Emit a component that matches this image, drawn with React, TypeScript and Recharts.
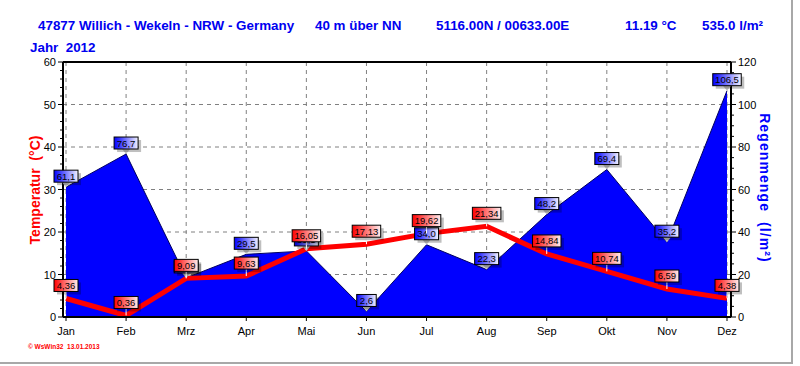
import React from 'react';
import {
  ComposedChart,
  Area,
  Line,
  XAxis,
  YAxis,
  CartesianGrid,
  ReferenceLine,
  LabelList,
} from 'recharts';

const months = ['Jan', 'Feb', 'Mrz', 'Apr', 'Mai', 'Jun', 'Jul', 'Aug', 'Sep', 'Okt', 'Nov', 'Dez'];
const temperature = [4.36, 0.36, 9.09, 9.63, 16.05, 17.13, 19.62, 21.34, 14.84, 10.74, 6.59, 4.38];
const rainfall = [61.1, 76.7, 18.4, 29.5, 31.1, 2.6, 34.0, 22.3, 48.2, 69.4, 35.2, 106.5];

const tempTicks = [0, 10, 20, 30, 40, 50, 60];
const rainTicks = [0, 20, 40, 60, 80, 100, 120];
const TEMP_MAX = 60;
const RAIN_MAX = 120;
const TEMP_MINOR_STEP = 2;
const RAIN_MINOR_STEP = 5;
const monthMinorTicks = Array.from({ length: 45 }, (_, i) => i * 0.25);

const data = months.map((m, i) => ({ month: m, temp: temperature[i], rain: rainfall[i] }));

const FONT = '"Liberation Sans", Arial, Helvetica, sans-serif';

function fmt(v: number, d: number) {
  return v.toFixed(d).replace('.', ',');
}

function ValueBox({ x, y, text, gap, kind }: { x: number; y: number; text: string; gap: number; kind: string }) {
  const w = text.length * 4.5 + 6;
  const h = 12;
  const bottom = y - gap;
  const top = bottom - h;
  const left = x - w / 2;
  return (
    <g>
      {kind === 'rain' ? (
        <polygon points={`${x - 4},${bottom} ${x + 4},${bottom} ${x},${y}`} fill="#c8c8c8" />
      ) : (
        <line x1={x} x2={x} y1={bottom} y2={y} stroke="#ffffff" strokeWidth={1} />
      )}
      <rect x={left + 3} y={top + 3} width={w} height={h} fill="#000" opacity={0.25} />
      <rect x={left} y={top} width={w} height={h} fill={`url(#${kind}Grad)`} stroke="#000" strokeWidth={1} />
      <text x={x} y={top + 9.5} textAnchor="middle" fontSize={9.5} fontFamily={FONT} fill="#000">
        {text}
      </text>
    </g>
  );
}

const TempLabel = (props: any) => {
  const { x, y, value } = props;
  if (x == null || y == null) return null;
  return <ValueBox x={x} y={y} text={fmt(Number(value), 2)} gap={7} kind="temp" />;
};

const RainLabel = (props: any) => {
  const { x, y, value } = props;
  if (x == null || y == null) return null;
  return <ValueBox x={x} y={y} text={fmt(Number(value), 1)} gap={5} kind="rain" />;
};

function minorOffsets(height: any, max: number, step: number, majorStep: number) {
  if (typeof height !== 'number' || !(height > 0)) return [];
  const pxPerUnit = height / max;
  const out: number[] = [];
  for (let v = step; v < majorStep; v += step) out.push(v * pxPerUnit);
  return out;
}

const LeftTick = (props: any) => {
  const { x, y, payload, height } = props;
  const v = payload.value;
  const minors = v > 0 ? minorOffsets(height, TEMP_MAX, TEMP_MINOR_STEP, 10) : [];
  return (
    <g>
      <line x1={x - 5} x2={x} y1={y} y2={y} stroke="#000" />
      {minors.map((d, i) => (
        <line key={i} x1={x - 3} x2={x} y1={y + d} y2={y + d} stroke="#000" />
      ))}
      <text x={x - 7} y={y + 4} textAnchor="end" fontSize={11} fontFamily={FONT} fill="#000">
        {v}
      </text>
    </g>
  );
};

const RightTick = (props: any) => {
  const { x, y, payload, height } = props;
  const v = payload.value;
  const minors = v > 0 ? minorOffsets(height, RAIN_MAX, RAIN_MINOR_STEP, 20) : [];
  return (
    <g>
      <line x1={x} x2={x + 5} y1={y} y2={y} stroke="#000" />
      {minors.map((d, i) => (
        <line key={i} x1={x} x2={x + 3} y1={y + d} y2={y + d} stroke="#000" />
      ))}
      <text x={x + 7} y={y + 4} textAnchor="start" fontSize={11} fontFamily={FONT} fill="#000">
        {v}
      </text>
    </g>
  );
};

const MonthTick = (props: any) => {
  const { x, y, payload } = props;
  return (
    <g>
      <line x1={x} x2={x} y1={y} y2={y + 4} stroke="#000" />
      <text x={x} y={y + 18} textAnchor="middle" fontSize={11} fontFamily={FONT} fill="#000">
        {payload.value}
      </text>
    </g>
  );
};

const MinorTick = (props: any) => {
  const { x, y } = props;
  return <line x1={x} x2={x} y1={y} y2={y + 3} stroke="#000" />;
};

export default function App() {
  return (
    <div style={{ position: 'absolute', left: 0, top: 0, width: 800, height: 366, background: '#fff', overflow: 'hidden' }}>
      <ComposedChart
        width={800}
        height={366}
        data={data}
        margin={{ top: 62, right: 29, bottom: 19, left: 23 }}
      >
        <defs>
          <linearGradient id="tempGrad" x1="0" y1="0" x2="1" y2="0">
            <stop offset="0%" stopColor="#ff0000" />
            <stop offset="100%" stopColor="#ffeeee" />
          </linearGradient>
          <linearGradient id="rainGrad" x1="0" y1="0" x2="1" y2="0">
            <stop offset="0%" stopColor="#0000ff" />
            <stop offset="100%" stopColor="#f2f2ff" />
          </linearGradient>
        </defs>
        <CartesianGrid
          yAxisId="left"
          horizontal={true}
          vertical={true}
          stroke="#808080"
          strokeDasharray="4 4"
        />
        <XAxis
          xAxisId="m"
          type="number"
          dataKey="idx"
          domain={[0, 11]}
          ticks={monthMinorTicks}
          interval={0}
          allowDataOverflow
          height={0}
          axisLine={false}
          tickLine={false}
          tickSize={0}
          tickMargin={0}
          tick={<MinorTick />}
          padding={{ left: 3, right: 4 }}
        />
        <XAxis
          dataKey="month"
          height={30}
          interval={0}
          padding={{ left: 3, right: 4 }}
          axisLine={{ stroke: '#000', strokeWidth: 2 }}
          tickLine={false}
          tickSize={0}
          tickMargin={0}
          tick={<MonthTick />}
        />
        <YAxis
          yAxisId="left"
          orientation="left"
          width={40}
          domain={[0, TEMP_MAX]}
          ticks={tempTicks}
          interval={0}
          axisLine={{ stroke: '#000', strokeWidth: 2 }}
          tickLine={false}
          tickSize={0}
          tickMargin={0}
          tick={<LeftTick />}
        />
        <YAxis
          yAxisId="right"
          orientation="right"
          width={40}
          domain={[0, RAIN_MAX]}
          ticks={rainTicks}
          interval={0}
          axisLine={{ stroke: '#000', strokeWidth: 2 }}
          tickLine={false}
          tickSize={0}
          tickMargin={0}
          tick={<RightTick />}
        />
        <Area
          yAxisId="right"
          dataKey="rain"
          type="linear"
          fill="#0000ff"
          fillOpacity={1}
          stroke="#000060"
          strokeWidth={1}
          isAnimationActive={false}
          dot={false}
          activeDot={false}
        >
          <LabelList dataKey="rain" content={<RainLabel />} />
        </Area>
        <ReferenceLine yAxisId="left" y={60} stroke="#000" strokeWidth={2} />
        <Line
          yAxisId="left"
          dataKey="temp"
          type="linear"
          stroke="#ff0000"
          strokeWidth={5}
          dot={false}
          activeDot={false}
          isAnimationActive={false}
        >
          <LabelList dataKey="temp" content={<TempLabel />} />
        </Line>
      </ComposedChart>
      <svg
        width={800}
        height={366}
        style={{ position: 'absolute', left: 0, top: 0, pointerEvents: 'none' }}
      >
        <g fontFamily={FONT} fontWeight="bold" fontSize={13.4} fill="#0000f0">
          <text x={38} y={30}>47877 Willich - Wekeln - NRW - Germany</text>
          <text x={315} y={30}>40 m über NN</text>
          <text x={436} y={30}>5116.00N / 00633.00E</text>
          <text x={625} y={30}>11.19 °C</text>
          <text x={702} y={30}>535.0 l/m²</text>
          <text x={30} y={52}>{'Jahr\u00a0\u00a02012'}</text>
        </g>
        <text
          transform="translate(40,190) rotate(-90)"
          textAnchor="middle"
          fontFamily={FONT}
          fontWeight="bold"
          fontSize={14}
          fill="#ff0000"
        >
          {'Temperatur\u00a0\u00a0(°C)'}
        </text>
        <text
          transform="translate(760,188) rotate(90)"
          textAnchor="middle"
          fontFamily={FONT}
          fontWeight="bold"
          fontSize={14}
          letterSpacing={1.1}
          fill="#0000ff"
        >
          {'Regenmenge\u00a0\u00a0(l/m²)'}
        </text>
        <text x={28} y={349} fontFamily={FONT} fontWeight="bold" fontSize={6.5} fill="#ff0000">
          {'© WsWin32\u00a0\u00a013.01.2013'}
        </text>
      </svg>
      <div style={{ position: 'absolute', left: 791, top: 0, width: 2, height: 364, background: '#a8a8a8' }} />
      <div style={{ position: 'absolute', left: 0, top: 362, width: 793, height: 2, background: '#a8a8a8' }} />
    </div>
  );
}
